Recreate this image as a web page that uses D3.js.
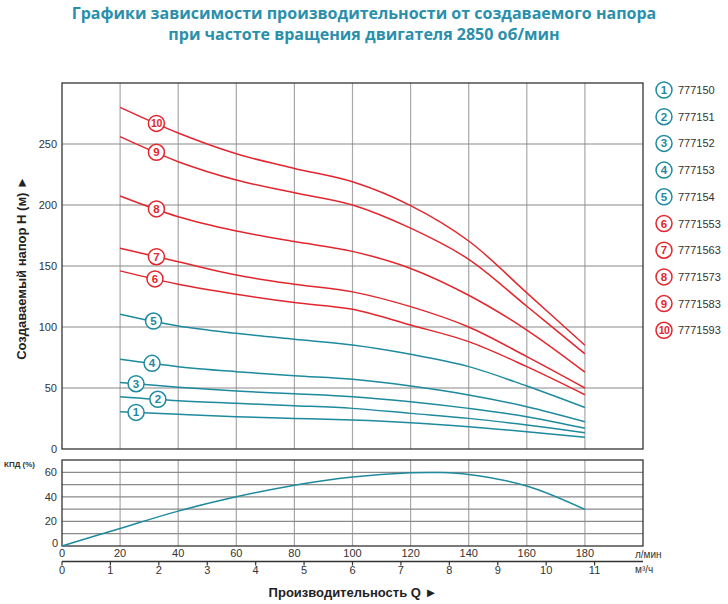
<!DOCTYPE html>
<html><head><meta charset="utf-8">
<script src="https://cdn.jsdelivr.net/npm/d3@7/dist/d3.min.js"></script>
<style>body{margin:0;background:#fff}svg{display:block}</style>
</head><body>
<script>
const titleLines = ["Графики зависимости производительности от создаваемого напора","при частоте вращения двигателя 2850 об/мин"];
const flowQ = [20,40,60,80,100,120,140,160,180];
const headSeries = [
  [30.6,28.4,26.5,25.1,23.8,21.6,18.3,14.2,9.6],
  [42.9,39.6,37.4,35.5,33.3,29.2,25.1,19.7,13.4],
  [54.6,50.6,47.5,45.3,42.9,38.8,33.3,26.5,17],
  [73.5,67.5,63.4,60,57.1,51.6,44.3,34.7,22.4],
  [110.4,100.8,94.8,89.9,85.2,77.6,67.5,51.6,34],
  [146,135,126.8,120,114.5,101.6,88,67.5,44.5],
  [164.5,153.5,142.6,135,128.8,116.7,100,75.7,50],
  [207.4,190.4,178.7,170,162,148,126,97.5,63],
  [256,235.5,220.5,210,200,181,155.5,117,78],
  [280,259,242,230,219,199.5,170.5,128,85]
];
const modelNames = ["777150","777151","777152","777153","777154","7771553","7771563","7771573","7771583","7771593"];
const seriesGroup = ["teal","teal","teal","teal","teal","red","red","red","red","red"];
const labelQ = [25.5,33,25.5,31,31.5,32,32.5,32.5,32.5,32.5];
const effQ = [0,20,40,60,80,100,120,130,140,160,180];
const effVal = [0,14.3,28.4,40,49.5,56.2,59.6,59.8,58.2,48.9,29.8];
const headTicks = [0,50,100,150,200,250];
const effTicks = [0,20,40,60];
const flowTicks = [0,20,40,60,80,100,120,140,160,180];
const m3Ticks = [0,1,2,3,4,5,6,7,8,9,10,11];

const colors = {teal:"#1e8a9e", red:"#e2262e"};
const W=728,H=604;
const svg = d3.select("body").append("svg").attr("width",W).attr("height",H);
const axisFont = "'Liberation Sans', Arial, sans-serif";

const x = d3.scaleLinear().domain([0,200]).range([62,643]);
const yT = d3.scaleLinear().domain([0,300]).range([449,83]);
const yB = d3.scaleLinear().domain([0,70]).range([546,460]);

// title
svg.selectAll("text.title").data(titleLines).join("text")
  .attr("x",364).attr("y",(d,i)=>19+i*21).attr("text-anchor","middle")
  .attr("font-family","'Open Sans', sans-serif").attr("font-weight","bold").attr("font-size",16)
  .attr("fill","#2a8fab").text(d=>d);

// top grid
const gT = svg.append("g");
gT.selectAll("line.v").data(d3.range(20,200,20)).join("line")
  .attr("x1",d=>x(d)).attr("x2",d=>x(d)).attr("y1",yT(300)).attr("y2",yT(0))
  .attr("stroke","#a8a8a8").attr("stroke-width",1.2);
gT.selectAll("line.h").data(d3.range(50,300,50)).join("line")
  .attr("x1",x(0)).attr("x2",x(200)).attr("y1",d=>yT(d)).attr("y2",d=>yT(d))
  .attr("stroke","#8a8a8a").attr("stroke-width",1.2);
gT.append("rect").attr("x",x(0)).attr("y",yT(300)).attr("width",x(200)-x(0)).attr("height",yT(0)-yT(300))
  .attr("fill","none").attr("stroke","#333").attr("stroke-width",1.3);
gT.selectAll("text.yt").data(headTicks).join("text")
  .attr("x",57).attr("y",d=>yT(d)+4).attr("text-anchor","end")
  .attr("font-family",axisFont).attr("font-size",11).attr("fill","#333").text(d=>d);

// curves
const line = d3.line().x(d=>x(d[0])).y(d=>yT(d[1])).curve(d3.curveCatmullRom.alpha(0.5));
headSeries.forEach((s,i)=>{
  const pts = flowQ.map((q,j)=>[q,s[j]]);
  svg.append("path").attr("d",line(pts)).attr("fill","none")
    .attr("stroke",colors[seriesGroup[i]]).attr("stroke-width",1.5);
});
// curve labels
function interp(s,q){
  for(let j=0;j<flowQ.length-1;j++){
    if(q>=flowQ[j]&&q<=flowQ[j+1]){const t=(q-flowQ[j])/(flowQ[j+1]-flowQ[j]);return s[j]+t*(s[j+1]-s[j]);}
  }
  return s[0];
}
function badge(g,cx,cy,num,col){
  g.append("circle").attr("cx",cx).attr("cy",cy).attr("r",8).attr("fill","#fff")
    .attr("stroke",col).attr("stroke-width",1.5);
  g.append("text").attr("x",cx).attr("y",cy+4).attr("text-anchor","middle")
    .attr("font-family",axisFont).attr("font-weight","bold").attr("font-size",num>9?10.5:11.5)
    .attr("letter-spacing",num>9?-0.5:0).attr("fill",col).text(num);
}
const gL = svg.append("g");
headSeries.forEach((s,i)=>{
  badge(gL,x(labelQ[i]),yT(interp(s,labelQ[i])),i+1,colors[seriesGroup[i]]);
});

// legend
const gLeg = svg.append("g");
modelNames.forEach((m,i)=>{
  const cy = 90+i*26.7;
  badge(gLeg,664,cy,i+1,colors[seriesGroup[i]]);
  gLeg.append("text").attr("x",678).attr("y",cy+4).attr("font-family",axisFont)
    .attr("font-size",11).attr("fill","#333").text(m);
});

// y label
svg.append("text").attr("transform","translate(26,268) rotate(-90)").attr("text-anchor","middle")
  .attr("font-family",axisFont).attr("font-weight","bold").attr("font-size",13).attr("fill","#222")
  .text("Создаваемый напор H (м) ►");

// bottom panel
const gB = svg.append("g");
gB.selectAll("line.v").data(d3.range(20,200,20)).join("line")
  .attr("x1",d=>x(d)).attr("x2",d=>x(d)).attr("y1",yB(70)).attr("y2",yB(0))
  .attr("stroke","#a8a8a8").attr("stroke-width",1.2);
gB.selectAll("line.h").data(d3.range(10,70,10)).join("line")
  .attr("x1",x(0)).attr("x2",x(200)).attr("y1",d=>yB(d)).attr("y2",d=>yB(d))
  .attr("stroke","#8a8a8a").attr("stroke-width",1.2);
gB.append("rect").attr("x",x(0)).attr("y",yB(70)).attr("width",x(200)-x(0)).attr("height",yB(0)-yB(70))
  .attr("fill","none").attr("stroke","#333").attr("stroke-width",1.3);
gB.selectAll("text.yt").data(effTicks).join("text")
  .attr("x",d=>d===0?58:57).attr("y",d=>yB(d)+(d===0?1:4)).attr("text-anchor","end")
  .attr("font-family",axisFont).attr("font-size",11).attr("fill","#333").text(d=>d);
svg.append("text").attr("x",4).attr("y",467).attr("font-family",axisFont).attr("font-weight","bold")
  .attr("font-size",8).attr("fill","#333").text("КПД (%)");
const effLine = d3.line().x(d=>x(d[0])).y(d=>yB(d[1])).curve(d3.curveCatmullRom.alpha(0.5));
svg.append("path").attr("d",effLine(effQ.map((q,i)=>[q,effVal[i]]))).attr("fill","none")
  .attr("stroke",colors.teal).attr("stroke-width",1.5);

// flow ticks (l/min)
svg.selectAll("text.ft").data(flowTicks).join("text")
  .attr("x",d=>x(d)).attr("y",557).attr("text-anchor","middle")
  .attr("font-family",axisFont).attr("font-size",11).attr("fill","#333").text(d=>d);
svg.append("text").attr("x",635).attr("y",558).attr("font-family",axisFont).attr("font-size",10).attr("fill","#333").text("л/мин");

// m3/h axis
const xm = d3.scaleLinear().domain([0,12]).range([x(0), x(0)+12*(x(100/6)-x(0))]);
svg.append("line").attr("x1",x(0)).attr("x2",x(200)).attr("y1",561.5).attr("y2",561.5).attr("stroke","#333").attr("stroke-width",1.3);
svg.selectAll("line.mt").data(m3Ticks).join("line")
  .attr("x1",d=>xm(d)).attr("x2",d=>xm(d)).attr("y1",561.5).attr("y2",565.5).attr("stroke","#333").attr("stroke-width",1.2);
svg.selectAll("text.mt").data(m3Ticks).join("text")
  .attr("x",d=>xm(d)).attr("y",574).attr("text-anchor","middle")
  .attr("font-family",axisFont).attr("font-size",11).attr("fill","#333").text(d=>d);
svg.append("text").attr("x",635).attr("y",573).attr("font-family",axisFont).attr("font-size",10).attr("fill","#333").text("м³/ч");

// x label
svg.append("text").attr("x",353).attr("y",597).attr("text-anchor","middle")
  .attr("font-family",axisFont).attr("font-weight","bold").attr("font-size",13).attr("fill","#222")
  .text("Производительность Q ►");
</script>
</body></html>
